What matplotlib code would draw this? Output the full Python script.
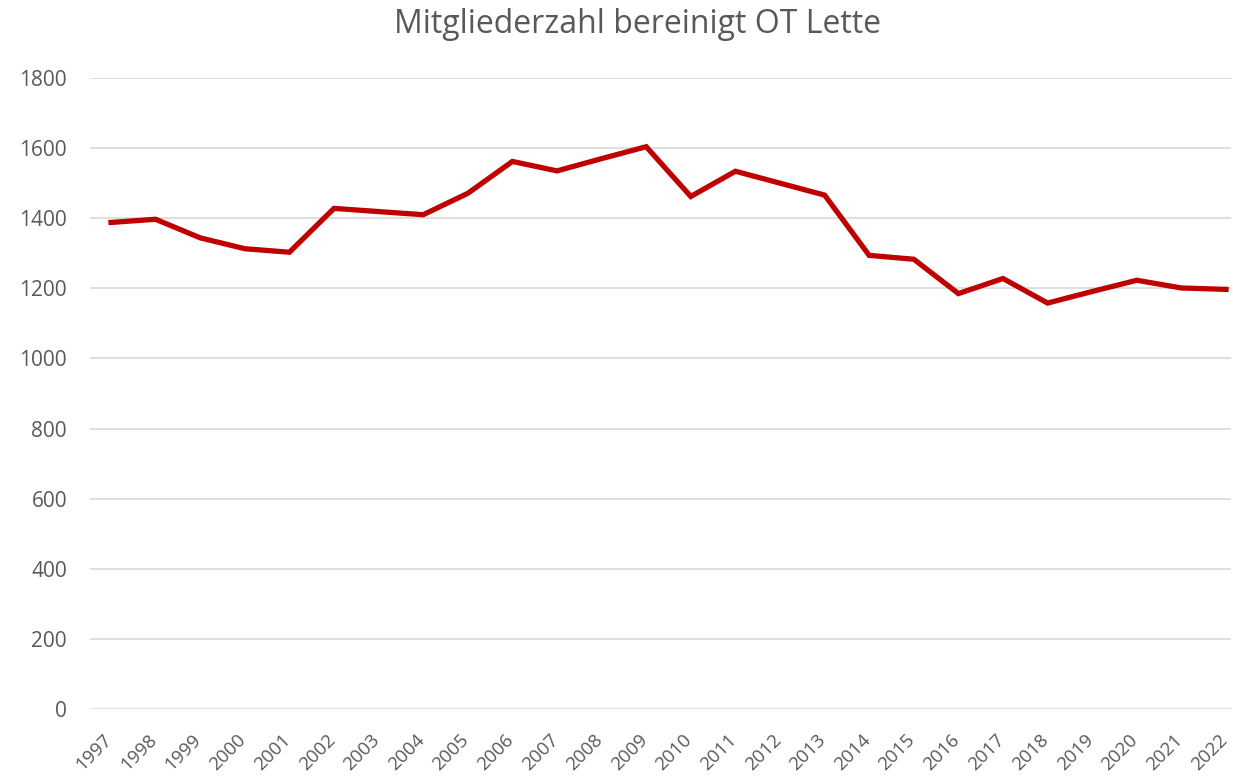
import matplotlib
matplotlib.use('Agg')
import matplotlib.pyplot as plt
import matplotlib.transforms as mtransforms

## Data
years = list(range(1997, 2023))
members = [1388, 1397, 1344, 1313, 1303, 1428, 1419, 1410, 1471, 1562,
           1535, 1570, 1604, 1462, 1534, 1500, 1466, 1294, 1283, 1185,
           1228, 1158, 1191, 1223, 1201, 1197]
y_ticks = [0, 200, 400, 600, 800, 1000, 1200, 1400, 1600, 1800]
title = 'Mitgliederzahl bereinigt OT Lette'

text_color = '#595959'
plt.rcParams['font.family'] = ['Open Sans', 'DejaVu Sans']

W, H = 1233, 776
fig = plt.figure(figsize=(W / 100, H / 100), dpi=100)
ax = fig.add_axes([90 / W, 1 - 709 / H, (1231 - 90) / W, (709 - 78) / H])

ax.plot(years, members, color='#C00000', linewidth=3.8, solid_joinstyle='miter')

ax.set_ylim(0, 1800)
ax.set_xlim(1997 - 21 / 44.6, 2022 + 5 / 44.6)
ax.set_yticks(y_ticks)
ax.set_xticks(years)
ax.set_xticklabels([str(y) for y in years], rotation=45, ha='right', va='baseline',
                   rotation_mode='anchor')
ax.tick_params(axis='y', length=0, labelsize=15, colors=text_color, pad=16.5)
ax.tick_params(axis='x', length=0, labelsize=13.5, colors=text_color, pad=0)

# shift x labels: baseline end a bit right of the tick and below the axis
offset = mtransforms.ScaledTranslation(2 / 100, -32 / 100, fig.dpi_scale_trans)
for lbl in ax.get_xticklabels():
    lbl.set_transform(lbl.get_transform() + offset)

ax.grid(axis='y', color='#D9D9D9', linewidth=1.2)
ax.set_axisbelow(True)
for s in ax.spines.values():
    s.set_visible(False)

fig.text(638 / W, 1 - 33 / H, title, ha='center', va='baseline', fontsize=23, color=text_color)

fig.savefig('out.png', dpi=100)
